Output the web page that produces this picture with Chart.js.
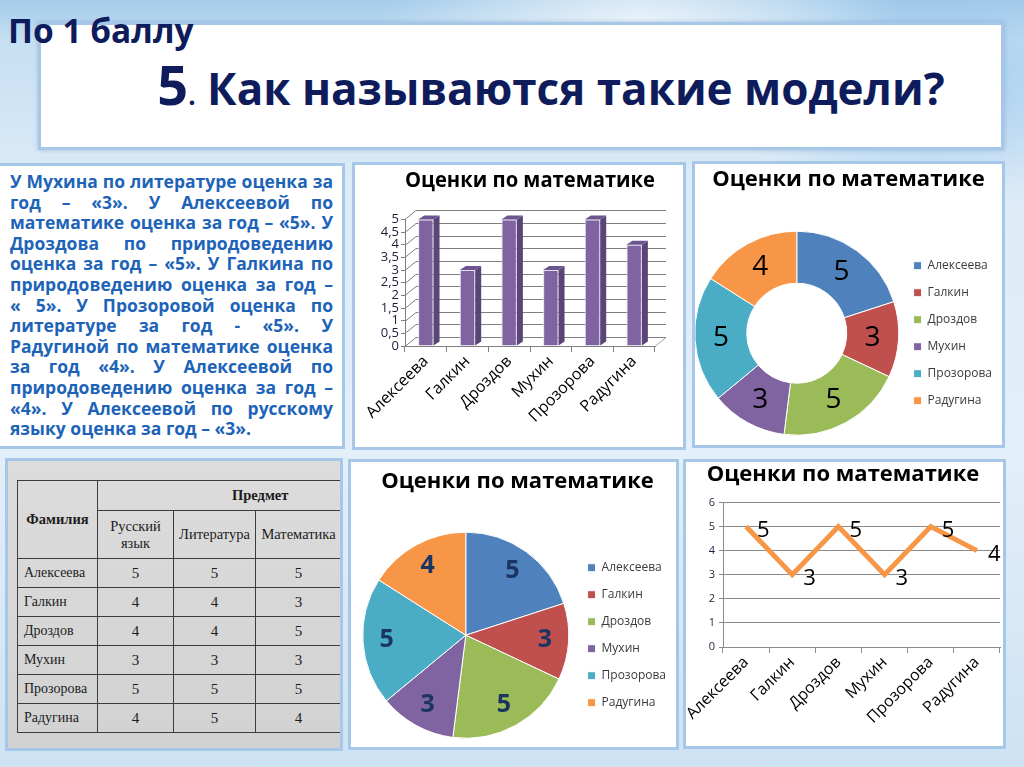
<!DOCTYPE html>
<html lang="ru">
<head>
<meta charset="utf-8">
<title>Оценки по математике</title>
<script src="https://cdn.jsdelivr.net/npm/chart.js@4.4.1/dist/chart.umd.min.js"></script>
<style>
  html, body { margin: 0; padding: 0; }
  body {
    width: 1024px; height: 767px; overflow: hidden; position: relative;
    font-family: "Open Sans", sans-serif;
    background:
      radial-gradient(ellipse 260px 90px at 640px 20px, rgba(255,255,255,0.7), rgba(255,255,255,0)),
      radial-gradient(ellipse 200px 120px at 930px 90px, rgba(120,180,230,0.5), rgba(120,180,230,0)),
      linear-gradient(180deg, #a4cbea 0px, #c6dff3 40px, #dcebf7 180px, #e3eff9 450px, #cde2f3 767px);
  }
  .panel { position: absolute; box-sizing: border-box; border: 3px solid #a6c7e8; background: #fff; }
  #header { left: 38px; top: 22px; width: 966px; height: 128px; box-shadow: 0 0 4px rgba(70,110,170,0.35); }
  #score { position: absolute; left: 8px; top: 7px; font-size: 33.5px; font-weight: 700; color: #0e1c5c; }
  #question {
    position: absolute; left: 68px; top: 54px; width: 966px; text-align: center;
    font-size: 44px; font-weight: 700; color: #0e1c5c; line-height: 60px;
  }
  #question .num { font-size: 54px; }
  #question .dot { font-size: 26px; }
  #txt { left: -3px; top: 163px; width: 348px; height: 286px; padding: 5px 9px 0 10px; }
  #txt div {
    font-size: 17.5px; font-weight: 700; color: #1d64b8; line-height: 20.6px;
    text-align: justify; text-align-last: justify;
  }
  #txt div.last { text-align-last: left; }
  #bar { left: 352px; top: 162px; width: 334px; height: 288px; }
  #donut { left: 692px; top: 161px; width: 313px; height: 287px; }
  #tbl { left: 5px; top: 458px; width: 338px; height: 293px; overflow: hidden;
    background: linear-gradient(180deg, #dcdcdc, #d2d2d2); }
  #pie { left: 348px; top: 459px; width: 331px; height: 291px; }
  #line { left: 683px; top: 459px; width: 323px; height: 290px; }
  .box { position: relative; width: 100%; height: 100%; }
  table {
    position: absolute; left: 9px; top: 19px; border-collapse: collapse;
    font-family: "Liberation Serif", "DejaVu Serif", serif; color: #1c1c1c;
    table-layout: fixed; width: 324px;
  }
  td, th { border: 1.5px solid #3c3c3c; padding: 0; }
  th { font-weight: 400; font-size: 14.5px; line-height: 17px; }
  th.b { font-weight: 700; }
  td { height: 28px; font-size: 15px; text-align: center; }
  td.name { text-align: left; padding-left: 6px; font-size: 14px; }
</style>
</head>
<body>
<div class="panel" id="header"></div>
<div id="score">По 1 баллу</div>
<div id="question"><span class="num">5</span><span class="dot">.</span> Как называются такие модели?</div>

<div class="panel" id="txt">
  <div>У Мухина по литературе оценка за</div>
  <div>год – «3». У Алексеевой по</div>
  <div>математике оценка за год – «5». У</div>
  <div>Дроздова по природоведению</div>
  <div>оценка за год – «5». У Галкина по</div>
  <div>природоведению оценка за год –</div>
  <div>« 5». У Прозоровой оценка по</div>
  <div>литературе за год - «5». У</div>
  <div>Радугиной по математике оценка</div>
  <div>за год «4». У Алексеевой по</div>
  <div>природоведению оценка за год –</div>
  <div>«4». У Алексеевой по русскому</div>
  <div class="last">языку оценка за год – «3».</div>
</div>

<div class="panel" id="bar"><div class="box"><canvas id="barChart"></canvas></div></div>
<div class="panel" id="donut"><div class="box"><canvas id="donutChart"></canvas></div></div>
<div class="panel" id="tbl"><table id="grades"></table></div>
<div class="panel" id="pie"><div class="box"><canvas id="pieChart"></canvas></div></div>
<div class="panel" id="line"><div class="box"><canvas id="lineChart"></canvas></div></div>

<script>
const names = ['Алексеева', 'Галкин', 'Дроздов', 'Мухин', 'Прозорова', 'Радугина'];
const mathGrades = [5, 3, 5, 3, 5, 4];
const russianGrades = [5, 4, 4, 3, 5, 4];
const literatureGrades = [5, 4, 4, 3, 5, 5];
const barYTicks = [0, 0.5, 1, 1.5, 2, 2.5, 3, 3.5, 4, 4.5, 5];
const lineYTicks = [0, 1, 2, 3, 4, 5, 6];
const sliceColors = ['#4f81bd', '#c0504d', '#9bbb59', '#8064a2', '#4bacc6', '#f79646'];
const chartTitle = 'Оценки по математике';

Chart.defaults.font.family = '"Open Sans", sans-serif';
Chart.defaults.animation = false;
Chart.defaults.plugins.tooltip.enabled = false;

// таблица
const table = document.getElementById('grades');
let html = '<col style="width:80px"><col style="width:76px"><col style="width:82px"><col style="width:86px">';
html += '<tr style="height:30px"><th class="b" rowspan="2">Фамилия</th><th class="b" colspan="3" style="text-align:left;padding-left:134px">Предмет</th></tr>';
html += '<tr style="height:48px"><th>Русский<br>язык</th><th>Литература</th><th>Математика</th></tr>';
names.forEach((n, i) => {
  html += `<tr><td class="name">${n}</td><td>${russianGrades[i]}</td><td>${literatureGrades[i]}</td><td>${mathGrades[i]}</td></tr>`;
});
table.innerHTML = html;

const titleOpts = (top, bottom, fullSize = true) => ({
  display: true, text: chartTitle, color: '#000', fullSize,
  font: { size: 22, weight: 'bold', lineHeight: 1.2 },
  padding: { top, bottom },
});

// псевдо-3D для столбцов
const bar3d = {
  id: 'bar3d',
  beforeDatasetsDraw(chart) {
    const { ctx, chartArea: a, scales: { y } } = chart;
    const dx = 11, dy = 9;
    ctx.save();
    ctx.strokeStyle = '#7f7f7f';
    ctx.lineWidth = 1;
    barYTicks.forEach(v => {
      const py = Math.round(y.getPixelForValue(v)) + 0.5;
      ctx.beginPath();
      ctx.moveTo(a.left, py);
      ctx.lineTo(a.left + dx, py - dy);
      ctx.lineTo(a.right + dx, py - dy);
      ctx.stroke();
    });
    ctx.strokeStyle = '#a0a0a0';
    ctx.beginPath();
    ctx.moveTo(a.right, a.bottom + 0.5);
    ctx.lineTo(a.right + dx, a.bottom - dy + 0.5);
    ctx.stroke();
    ctx.restore();
  },
  afterDatasetsDraw(chart) {
    const { ctx } = chart;
    const dx = 6, dy = 4;
    ctx.save();
    chart.getDatasetMeta(0).data.forEach(bar => {
      const { x, y, base, width } = bar.getProps(['x', 'y', 'base', 'width'], true);
      const r = x + width / 2, l = x - width / 2;
      ctx.fillStyle = '#5b4577';
      ctx.beginPath();
      ctx.moveTo(r, y); ctx.lineTo(r + dx, y - dy); ctx.lineTo(r + dx, base - dy); ctx.lineTo(r, base);
      ctx.closePath(); ctx.fill();
      ctx.fillStyle = '#6d5592';
      ctx.beginPath();
      ctx.moveTo(l, y); ctx.lineTo(l + dx, y - dy); ctx.lineTo(r + dx, y - dy); ctx.lineTo(r, y);
      ctx.closePath(); ctx.fill();
    });
    ctx.restore();
  },
};

new Chart(document.getElementById('barChart'), {
  type: 'bar',
  data: {
    labels: names,
    datasets: [{
      data: mathGrades,
      backgroundColor: '#8064a2',
      borderColor: '#e4dcef',
      borderWidth: 1,
      categoryPercentage: 1,
      barPercentage: 0.37,
    }],
  },
  options: {
    responsive: true, maintainAspectRatio: false,
    layout: { padding: { right: 28 } },
    plugins: { legend: { display: false }, title: titleOpts(3, 25, false) },
    scales: {
      y: {
        min: 0, max: 5,
        afterBuildTicks: s => { s.ticks = barYTicks.map(v => ({ value: v })); },
        afterFit: s => { s.width = 50; },
        ticks: { autoSkip: false, color: '#1c1c3c', font: { size: 13, lineHeight: 1 }, padding: 2,
          callback: v => String(v).replace('.', ',') },
        grid: { drawOnChartArea: false, tickLength: 4, color: '#808080' },
        border: { color: '#808080' },
      },
      x: {
        afterFit: s => { s.height = 101; },
        ticks: { minRotation: 45, maxRotation: 45, color: '#000', font: { size: 16 }, padding: 0 },
        grid: { drawOnChartArea: false, offset: true, tickLength: 6, color: '#808080' },
        border: { color: '#808080' },
      },
    },
  },
  plugins: [bar3d],
});

// подписи секторов
const sliceLabels = {
  id: 'sliceLabels',
  afterDatasetsDraw(chart, args, opts) {
    const { ctx } = chart;
    ctx.save();
    ctx.font = opts.font;
    ctx.fillStyle = opts.color;
    ctx.textAlign = 'center';
    ctx.textBaseline = 'middle';
    chart.getDatasetMeta(0).data.forEach((arc, i) => {
      const p = arc.getProps(['x', 'y', 'startAngle', 'endAngle', 'innerRadius', 'outerRadius'], true);
      const mid = (p.startAngle + p.endAngle) / 2;
      const r = p.innerRadius + (p.outerRadius - p.innerRadius) * opts.pos;
      ctx.fillText(String(chart.data.datasets[0].data[i]), p.x + Math.cos(mid) * r, p.y + Math.sin(mid) * r);
    });
    ctx.restore();
  },
};

const legendOpts = {
  position: 'right',
  fullSize: false,
  labels: { boxWidth: 8, boxHeight: 8, padding: 15, color: '#3a3a3a', font: { size: 12 } },
};

new Chart(document.getElementById('donutChart'), {
  type: 'doughnut',
  data: {
    labels: names,
    datasets: [{ data: mathGrades, backgroundColor: sliceColors, borderColor: '#fff', borderWidth: 1 }],
  },
  options: {
    responsive: true, maintainAspectRatio: false,
    radius: 102, cutout: '49%',
    layout: { padding: { bottom: 3 } },
    plugins: {
      legend: legendOpts,
      title: titleOpts(3, 31),
      sliceLabels: { font: '400 28px "Open Sans"', color: '#000', pos: 0.5 },
    },
  },
  plugins: [sliceLabels],
});

new Chart(document.getElementById('pieChart'), {
  type: 'pie',
  data: {
    labels: names,
    datasets: [{ data: mathGrades, backgroundColor: sliceColors, borderColor: '#fff', borderWidth: 1 }],
  },
  options: {
    responsive: true, maintainAspectRatio: false,
    radius: 103,
    layout: { padding: { left: 8, bottom: 3 } },
    plugins: {
      legend: legendOpts,
      title: titleOpts(7, 31),
      sliceLabels: { font: '700 25px "Open Sans"', color: '#1a3563', pos: 0.77 },
    },
  },
  plugins: [sliceLabels],
});

// подписи точек
const pointLabels = {
  id: 'pointLabels',
  afterDatasetsDraw(chart) {
    const { ctx } = chart;
    ctx.save();
    ctx.font = '400 22px "Open Sans"';
    ctx.fillStyle = '#000';
    ctx.textAlign = 'left';
    ctx.textBaseline = 'middle';
    chart.getDatasetMeta(0).data.forEach((pt, i) => {
      ctx.fillText(String(chart.data.datasets[0].data[i]), pt.x + 11, pt.y + 4);
    });
    ctx.restore();
  },
};

new Chart(document.getElementById('lineChart'), {
  type: 'line',
  data: {
    labels: names,
    datasets: [{
      data: mathGrades,
      borderColor: '#f79646',
      borderWidth: 5,
      pointRadius: 0,
      tension: 0,
      fill: false,
    }],
  },
  options: {
    responsive: true, maintainAspectRatio: false,
    layout: { padding: { right: 3 } },
    plugins: { legend: { display: false }, title: titleOpts(0, 14) },
    scales: {
      y: {
        min: 0, max: 6,
        afterBuildTicks: s => { s.ticks = lineYTicks.map(v => ({ value: v })); },
        afterFit: s => { s.width = 37; },
        ticks: { autoSkip: false, color: '#2a1f3a', font: { size: 11 }, padding: 4 },
        grid: { tickLength: 4, color: '#8c8c8c' },
        border: { color: '#8c8c8c' },
      },
      x: {
        offset: true,
        afterFit: s => { s.height = 99; },
        ticks: { minRotation: 45, maxRotation: 45, color: '#000', font: { size: 16 }, padding: 0 },
        grid: { drawOnChartArea: false, offset: true, tickLength: 6, color: '#8c8c8c' },
        border: { color: '#8c8c8c' },
      },
    },
  },
  plugins: [pointLabels],
});
</script>
</body>
</html>
